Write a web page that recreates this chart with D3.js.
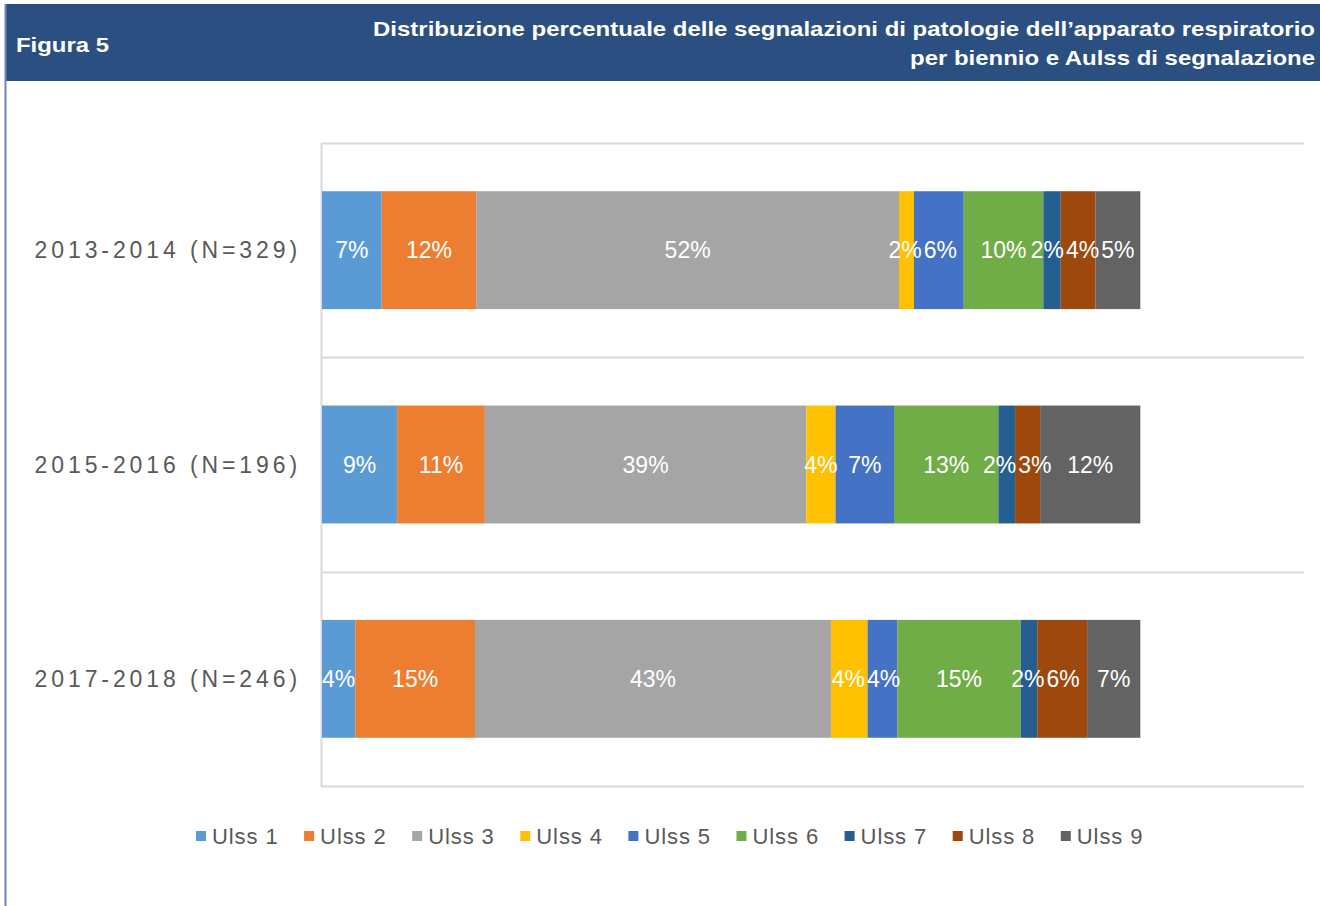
<!DOCTYPE html>
<html>
<head>
<meta charset="utf-8">
<script src="https://cdn.jsdelivr.net/npm/d3@7"></script>
<style>
  html, body { margin: 0; padding: 0; background: #fff; }
  svg { display: block; font-family: "Liberation Sans", Arial, sans-serif; }
</style>
</head>
<body>
<svg id="chart" width="1320" height="906"></svg>
<script>
// bienni e numero di segnalazioni per Aulss
const bienni = ["2013-2014", "2015-2016", "2017-2018"];
const totali = [329, 196, 246];
const ulss = ["Ulss 1", "Ulss 2", "Ulss 3", "Ulss 4", "Ulss 5", "Ulss 6", "Ulss 7", "Ulss 8", "Ulss 9"];
const conteggi2013 = [24, 38, 170, 6, 20, 32, 7, 14, 18];
const conteggi2015 = [18, 21, 77, 7, 14, 25, 4, 6, 24];
const conteggi2017 = [10, 36, 107, 11, 9, 37, 5, 15, 16];
const colori = ["#5B9BD5", "#ED7D31", "#A5A5A5", "#FFC000", "#4472C4", "#70AD47", "#255E91", "#9E480E", "#636363"];

const conteggi = [conteggi2013, conteggi2015, conteggi2017];

const rows = bienni.map((b, i) => {
  let acc = 0;
  const segs = ulss.map((u, j) => {
    const v = conteggi[i][j] / totali[i];
    const s = { biennio: b, ulss: u, x0: acc, x1: acc + v, v, color: colori[j] };
    acc += v;
    return s;
  });
  return { biennio: b, label: `${b} (N=${totali[i]})`, segs };
});

const svg = d3.select("#chart");

// intestazione
svg.append("rect")
  .attr("x", 5).attr("y", 4)
  .attr("width", 1315).attr("height", 77)
  .attr("fill", "#2C4F81");

svg.append("line")
  .attr("x1", 5.5).attr("x2", 5.5)
  .attr("y1", 4).attr("y2", 906)
  .attr("stroke", "#6F88AA").attr("stroke-width", 2);

svg.append("text")
  .attr("x", 16).attr("y", 52)
  .attr("fill", "#fff")
  .attr("textLength", 93)
  .attr("lengthAdjust", "spacingAndGlyphs")
  .style("font-size", "21px").style("font-weight", "bold")
  .text("Figura 5");

const titolo = [
  { t: "Distribuzione percentuale delle segnalazioni di patologie dell\u2019apparato respiratorio", w: 942 },
  { t: "per biennio e Aulss di segnalazione", w: 405 }
];
svg.append("g")
  .attr("fill", "#fff")
  .style("font-size", "20.5px").style("font-weight", "bold")
  .selectAll("text")
  .data(titolo)
  .join("text")
  .attr("x", 1315)
  .attr("y", (d, i) => 36 + i * 29)
  .attr("text-anchor", "end")
  .attr("textLength", d => d.w)
  .attr("lengthAdjust", "spacingAndGlyphs")
  .text(d => d.t);

// scale
const x = d3.scaleLinear().domain([0, 1.2]).range([322, 1304]);
const y = d3.scaleBand().domain(bienni).range([143, 786]).paddingInner(0.45).paddingOuter(0.225);

// griglia orizzontale ai bordi delle bande
const gridY = d3.range(bienni.length + 1).map(i => 143 + i * (786 - 143) / bienni.length);
svg.append("g")
  .selectAll("line")
  .data(gridY)
  .join("line")
  .attr("x1", 321).attr("x2", 1304)
  .attr("y1", d => Math.round(d) + 0.5)
  .attr("y2", d => Math.round(d) + 0.5)
  .attr("stroke", "#D9D9D9").attr("stroke-width", 2);

svg.append("line")
  .attr("x1", 321.5).attr("x2", 321.5)
  .attr("y1", 143).attr("y2", 787)
  .attr("stroke", "#D9D9D9").attr("stroke-width", 2);

// barre
const rowG = svg.append("g")
  .selectAll("g")
  .data(rows)
  .join("g");

rowG.selectAll("rect")
  .data(d => d.segs)
  .join("rect")
  .attr("x", d => x(d.x0))
  .attr("y", d => y(d.biennio))
  .attr("width", d => x(d.x1) - x(d.x0))
  .attr("height", y.bandwidth())
  .attr("fill", d => d.color);

rowG.each(function(row) {
  const labels = d3.select(this).selectAll("text")
    .data(row.segs)
    .join("text")
    .attr("y", d => y(d.biennio) + y.bandwidth() / 2)
    .attr("dy", "0.35em")
    .attr("text-anchor", "middle")
    .attr("fill", "#fff")
    .style("font-size", "23px")
    .text(d => Math.round(d.v * 100) + "%");

  // allarga le etichette vicine perche' non si sovrappongano
  const pos = row.segs.map(d => ({ c: (x(d.x0) + x(d.x1)) / 2 }));
  labels.each(function(d, i) { pos[i].w = this.getComputedTextLength(); });
  for (let k = 0; k < 50; k++) {
    for (let i = 0; i < pos.length - 1; i++) {
      const a = pos[i], b = pos[i + 1];
      const ov = (a.c + a.w / 2 + 2) - (b.c - b.w / 2);
      if (ov > 0) { a.c -= ov / 2; b.c += ov / 2; }
    }
  }
  labels.attr("x", (d, i) => pos[i].c);
});

// etichette categorie
svg.append("g")
  .selectAll("text")
  .data(rows)
  .join("text")
  .attr("x", 301)
  .attr("y", d => y(d.biennio) + y.bandwidth() / 2)
  .attr("dy", "0.35em")
  .attr("text-anchor", "end")
  .attr("fill", "#595959")
  .style("font-size", "23px")
  .style("letter-spacing", "3.9px")
  .text(d => d.label);

// legenda
const legend = svg.append("g")
  .selectAll("g")
  .data(ulss)
  .join("g")
  .attr("transform", (d, i) => `translate(${196 + i * 108.1},836)`);

legend.append("rect")
  .attr("x", 0).attr("y", -5)
  .attr("width", 10).attr("height", 10)
  .attr("fill", (d, i) => colori[i]);

legend.append("text")
  .attr("x", 16)
  .attr("dy", "0.35em")
  .attr("fill", "#595959")
  .style("font-size", "22px")
  .style("letter-spacing", "0.9px")
  .text(d => d);
</script>
</body>
</html>
